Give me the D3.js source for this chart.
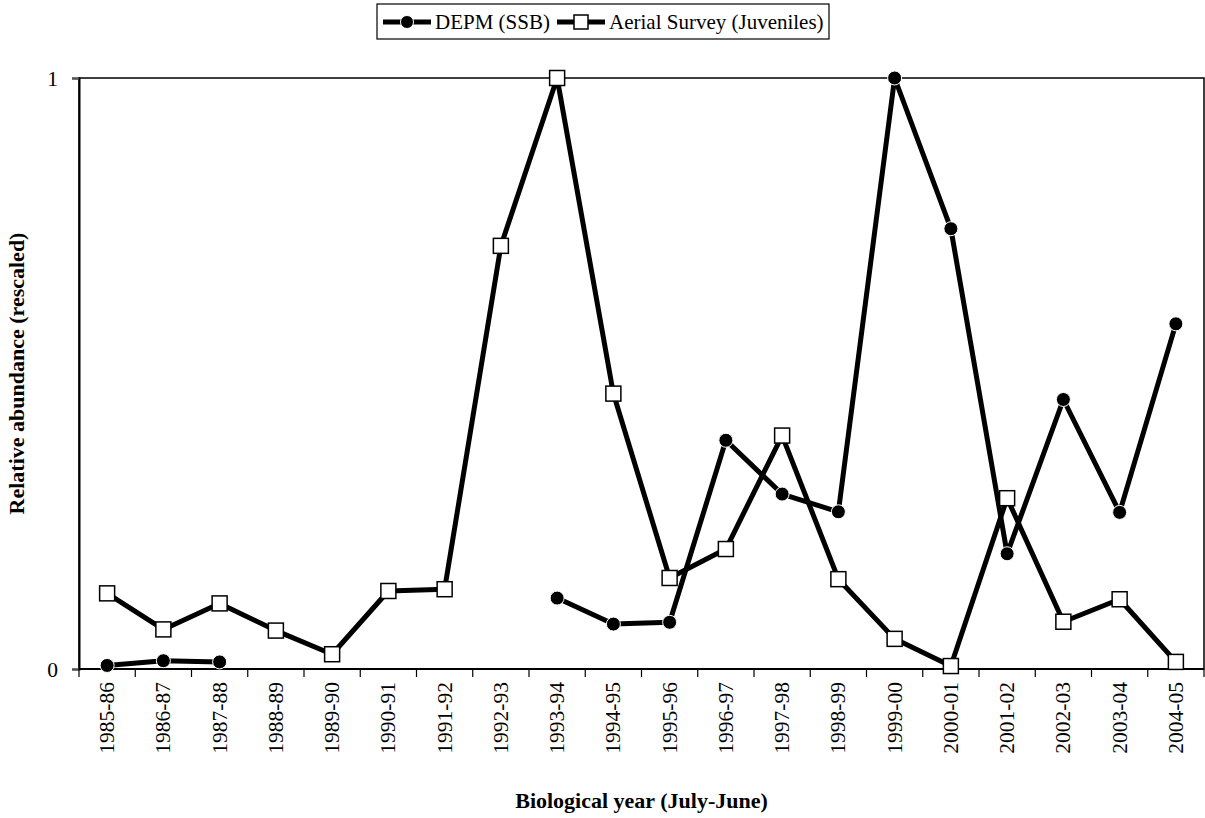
<!DOCTYPE html>
<html>
<head>
<meta charset="utf-8">
<script src="https://cdn.jsdelivr.net/npm/d3@7"></script>
<style>
  body { margin: 0; background: #fff; }
</style>
</head>
<body>
<div id="chart"></div>
<script>
var years = ['1985-86', '1986-87', '1987-88', '1988-89', '1989-90', '1990-91', '1991-92',
             '1992-93', '1993-94', '1994-95', '1995-96', '1996-97', '1997-98', '1998-99',
             '1999-00', '2000-01', '2001-02', '2002-03', '2003-04', '2004-05'];

// DEPM (SSB), gaps where no survey
var depm = [0.006, 0.014, 0.012, null, null, null, null,
            null, 0.120, 0.076, 0.079, 0.387, 0.296, 0.266,
            1.0, 0.745, 0.195, 0.456, 0.265, 0.584];

// Aerial Survey (Juveniles)
var aerial = [0.128, 0.067, 0.111, 0.065, 0.025, 0.132, 0.135,
              0.716, 1.0, 0.466, 0.154, 0.203, 0.395, 0.152,
              0.051, 0.005, 0.289, 0.080, 0.118, 0.012];

var yTicks = [0, 1];

var fontSize = '21.5px';
var titleSize = '22px';
var margin = {top: 78, right: 1, bottom: 149, left: 79};
var width = 1205 - margin.left - margin.right;
var height = 818 - margin.top - margin.bottom;

var svg = d3.select('#chart')
  .append('svg')
  .attr('width', 1205)
  .attr('height', 818);

var g = svg.append('g')
  .attr('transform', 'translate(' + margin.left + ',' + margin.top + ')');

var x = d3.scaleBand().domain(years).range([0, width]).padding(0);
var y = d3.scaleLinear().domain([0, 1]).range([height, 0]);

// plot frame
g.append('rect')
  .attr('x', 0).attr('y', 0)
  .attr('width', width).attr('height', height)
  .style('fill', 'none')
  .style('stroke', '#000')
  .style('stroke-width', 1.5);

// y axis
var yAxis = g.append('g')
  .call(d3.axisLeft(y).tickValues(yTicks).tickFormat(d3.format('d')).tickSize(7).tickPadding(14));
yAxis.select('.domain').style('stroke-width', 2);
yAxis.selectAll('.tick line').style('stroke', '#555').style('stroke-width', 1.5);
yAxis.selectAll('text').style('font-size', fontSize).attr('dy', '0.33em');

// x axis: ticks between categories
var xAxis = g.append('g')
  .attr('transform', 'translate(0,' + height + ')');
xAxis.append('line')
  .attr('x1', 0).attr('x2', width)
  .style('stroke', '#000').style('stroke-width', 2);
var bounds = years.map(function(d) { return x(d); }).concat([width]);
xAxis.selectAll('.tk')
  .data(bounds)
  .enter()
  .append('line')
  .attr('class', 'tk')
  .attr('x1', function(d) { return d; })
  .attr('x2', function(d) { return d; })
  .attr('y1', 0).attr('y2', 8)
  .style('stroke', '#000').style('stroke-width', 1.2);
xAxis.selectAll('.lbl')
  .data(years)
  .enter()
  .append('text')
  .attr('class', 'lbl')
  .attr('transform', function(d) {
    return 'translate(' + (x(d) + x.bandwidth() / 2 + 7) + ',13) rotate(-90)';
  })
  .attr('text-anchor', 'end')
  .style('font-size', fontSize)
  .text(function(d) { return d; });

// axis titles
svg.append('text')
  .attr('x', margin.left + width / 2)
  .attr('y', 808)
  .attr('text-anchor', 'middle')
  .style('font-size', titleSize)
  .style('font-weight', 'bold')
  .text('Biological year (July-June)');

svg.append('text')
  .attr('transform', 'translate(24,' + (margin.top + height / 2) + ') rotate(-90)')
  .attr('text-anchor', 'middle')
  .style('font-size', titleSize)
  .style('font-weight', 'bold')
  .text('Relative abundance (rescaled)');

var cx = function(d, i) { return x(years[i]) + x.bandwidth() / 2; };

var line = d3.line()
  .defined(function(d) { return d !== null; })
  .x(cx)
  .y(function(d) { return y(d); });

var marks = g.append('g');

// lines
[depm, aerial].forEach(function(series) {
  marks.append('path')
    .datum(series)
    .attr('d', line)
    .style('fill', 'none')
    .style('stroke', '#000')
    .style('stroke-width', 5)
    .style('stroke-linejoin', 'round');
});

// DEPM markers
var idx = d3.range(years.length);
marks.selectAll('.dot')
  .data(idx.filter(function(i) { return depm[i] !== null; }))
  .enter()
  .append('circle')
  .attr('class', 'dot')
  .attr('cx', function(i) { return cx(null, i); })
  .attr('cy', function(i) { return y(depm[i]); })
  .attr('r', 7)
  .style('fill', '#000')
  .style('stroke', '#fff')
  .style('stroke-width', 1);

// Aerial markers
marks.selectAll('.sq')
  .data(idx.filter(function(i) { return aerial[i] !== null; }))
  .enter()
  .append('rect')
  .attr('class', 'sq')
  .attr('x', function(i) { return cx(null, i) - 7.5; })
  .attr('y', function(i) { return y(aerial[i]) - 7.5; })
  .attr('width', 15)
  .attr('height', 15)
  .style('fill', '#fff')
  .style('stroke', '#000')
  .style('stroke-width', 1.5);

// legend
var legendSize = '21px';
var legend = svg.append('g').attr('transform', 'translate(377,4)');
legend.append('rect')
  .attr('x', 0).attr('y', 0)
  .attr('width', 452).attr('height', 35)
  .style('fill', '#fff')
  .style('stroke', '#000')
  .style('stroke-width', 1.2);

legend.append('line')
  .attr('x1', 6).attr('x2', 54).attr('y1', 18).attr('y2', 18)
  .style('stroke', '#000').style('stroke-width', 5);
legend.append('circle')
  .attr('cx', 30).attr('cy', 18).attr('r', 6.5)
  .style('fill', '#000').style('stroke', '#fff').style('stroke-width', 1);
legend.append('text')
  .attr('x', 58).attr('y', 25)
  .style('font-size', legendSize)
  .text('DEPM (SSB)');

legend.append('line')
  .attr('x1', 180).attr('x2', 228).attr('y1', 18).attr('y2', 18)
  .style('stroke', '#000').style('stroke-width', 5);
legend.append('rect')
  .attr('x', 197).attr('y', 11).attr('width', 14).attr('height', 14)
  .style('fill', '#fff').style('stroke', '#000').style('stroke-width', 1.5);
legend.append('text')
  .attr('x', 232).attr('y', 25)
  .style('font-size', legendSize)
  .text('Aerial Survey (Juveniles)');

// serif everywhere, set inline so axis defaults don't win
svg.selectAll('text')
  .style('font-family', 'Liberation Serif')
  .style('fill', '#000');
</script>
</body>
</html>
